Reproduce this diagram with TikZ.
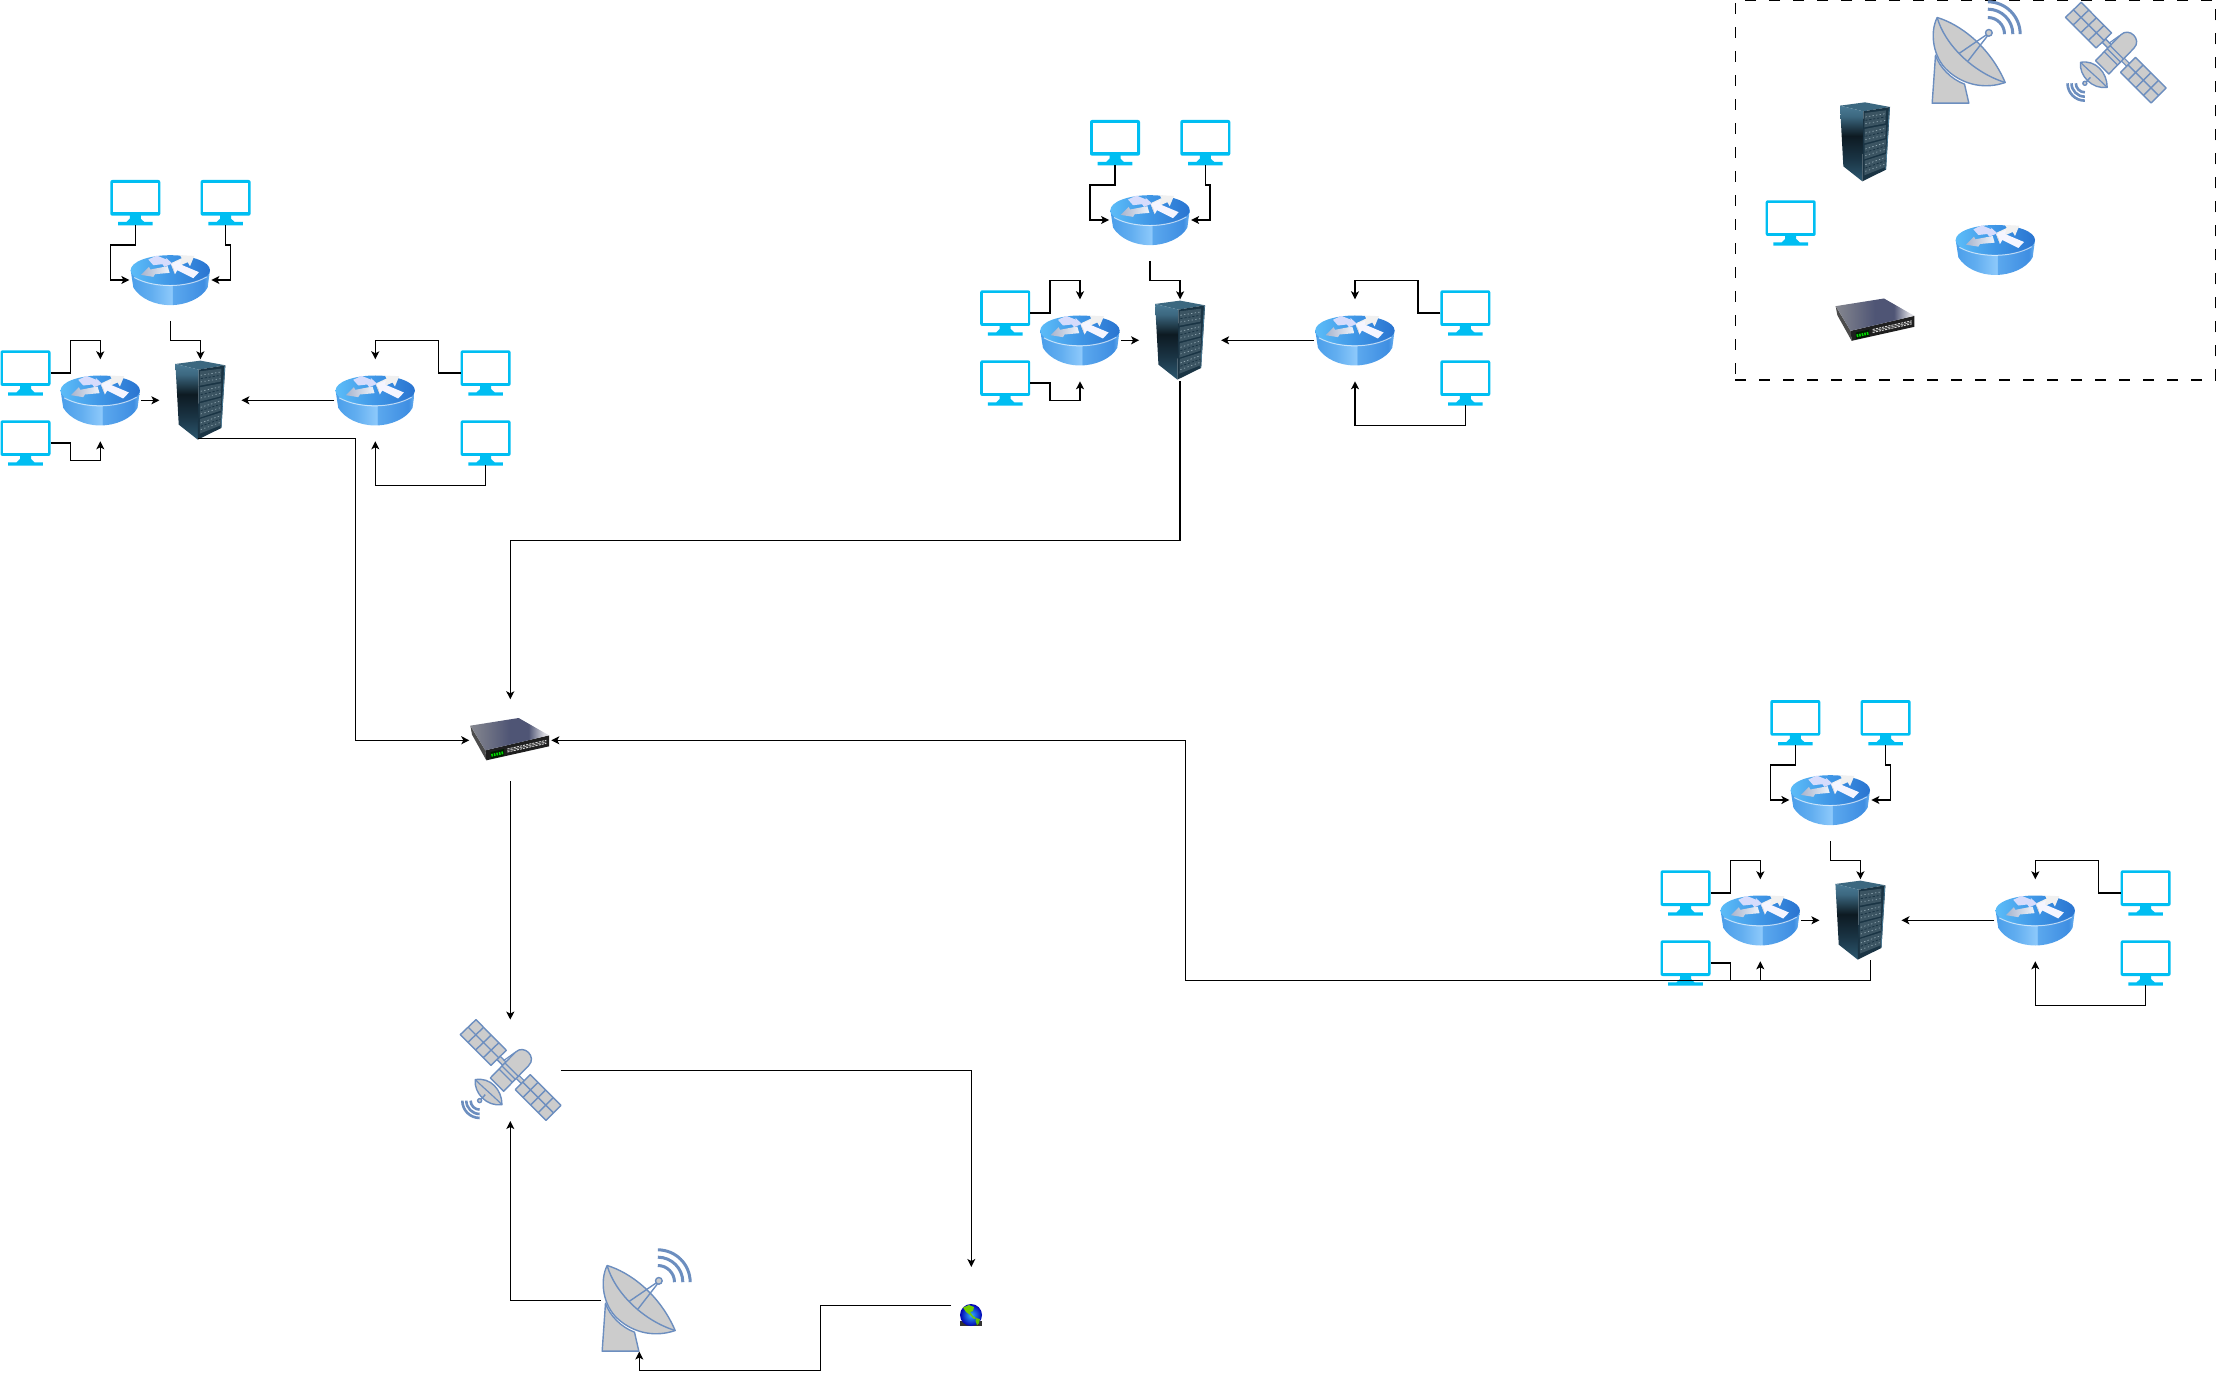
\documentclass[tikz,border=0pt]{standalone}
\usetikzlibrary{arrows.meta,calc}
\definecolor{moncol}{HTML}{00BEF2}
\definecolor{bluestroke}{HTML}{6C8EBF}
\definecolor{dishgray}{HTML}{CCCCCC}
\definecolor{rtA}{HTML}{5CBCF8}
\definecolor{rtB}{HTML}{3F96E6}
\definecolor{rtC}{HTML}{2A74D0}
\definecolor{rsA}{HTML}{4A9EEA}
\definecolor{rsB}{HTML}{62AEF0}
\definecolor{rsC}{HTML}{8DC9FB}
\definecolor{rsD}{HTML}{5BA8EE}
\definecolor{rsE}{HTML}{3F8EE2}
\definecolor{rsF}{HTML}{6FB5F2}
\definecolor{svA}{HTML}{2D5870}
\definecolor{svB}{HTML}{1A3444}
\definecolor{svC}{HTML}{0D1A22}
\definecolor{svD}{HTML}{3C6880}
\definecolor{svE}{HTML}{4A7A95}
\definecolor{svP}{HTML}{3B5462}
\definecolor{svQ}{HTML}{8FA5B0}
\definecolor{swA}{HTML}{85878F}
\definecolor{swB}{HTML}{4F5575}
\definecolor{swC}{HTML}{DADAE0}
\definecolor{arrL}{HTML}{A9B4CC}
\definecolor{arrR}{HTML}{EEF4FC}
\pgfdeclarehorizontalshading{routertop}{100bp}{color(0bp)=(rtA); color(25bp)=(rtA); color(50bp)=(rtB); color(75bp)=(rtC); color(100bp)=(rtC)}
\pgfdeclarehorizontalshading{routerside}{100bp}{color(0bp)=(rsA); color(25bp)=(rsA); color(38bp)=(rsB); color(51bp)=(rsC); color(51.5bp)=(rsD); color(71bp)=(rsE); color(75bp)=(rsF); color(100bp)=(rsF)}
\pgfdeclareverticalshading{serverleft}{100bp}{color(0bp)=(svA); color(25bp)=(svA); color(40bp)=(svB); color(55bp)=(svC); color(68bp)=(svD); color(75bp)=(svE); color(100bp)=(svE)}
\pgfdeclarehorizontalshading{switchtop}{100bp}{color(0bp)=(swA); color(25bp)=(swA); color(50bp)=(swB); color(62bp)=(swB); color(72bp)=(swC); color(75bp)=(swC); color(100bp)=(swC)}
\tikzset{
  x=0.5pt,y=-0.5pt,
  conn/.style={draw=black,line width=.65pt,line join=miter,-{Stealth[length=4pt,width=4pt,inset=1pt]}},
  routerbox/.style={inner sep=0,outer sep=0,minimum width=41pt,minimum height=41pt},
  monbox/.style={inner sep=0,outer sep=0,minimum width=25pt,minimum height=22.3pt},
  bluebox/.style={inner sep=0,outer sep=0,minimum width=50.5pt,minimum height=50.7pt},
  dishbox/.style={inner sep=0,outer sep=0,minimum width=46.3pt,minimum height=51pt},
  globebox/.style={inner sep=0,outer sep=0,minimum width=20.3pt,minimum height=38.3pt},
  bluefig/.style={draw=bluestroke,fill=dishgray,line width=.7pt,line join=round},
  wave/.style={draw=bluestroke,line width=1.5pt},
  monitor/.pic={
    \fill[moncol,rounded corners=1pt] (-25,-22.7) rectangle (25,13);
    \fill[white] (-22.3,-20) rectangle (22.3,9.8);
    \fill[moncol] (-5.5,12) -- (-5.5,16) -- (-9,19.3) -- (-17.3,19.3) -- (-17.3,22.7) -- (17.3,22.7) -- (17.3,19.3) -- (9,19.3) -- (5.5,16) -- (5.5,12) -- cycle;
  },
  router/.pic={
    \begin{scope}[shift={(-45.4,-29.8)},scale=.33333]
      \shade[shading=routerside] (17,60) -- (25,112) .. controls (45,145) and (90,165) .. (136,165) .. controls (182,165) and (230,145) .. (248,112) -- (255,60) -- cycle;
      \shade[shading=routertop] (17,60) .. controls (17,35) and (70,15) .. (136,15) .. controls (202,15) and (255,35) .. (255,60) .. controls (255,85) and (202,105) .. (136,105) .. controls (70,105) and (17,85) .. (17,60) -- cycle;
      \draw[white,opacity=.65,line width=.5pt] (28,82) .. controls (60,100) and (100,106) .. (136,106) .. controls (172,106) and (215,98) .. (245,80);
      \shade[left color=arrL,right color=arrR] (48,74) -- (72,50) -- (76,58) -- (128,48) -- (134,68) -- (90,72) -- (85,80) -- cycle;
      \fill[arrR!90!blue] (70,28) -- (95,16) -- (125,28) -- (122,22) -- (142,40) -- (118,50) -- (112,42) -- (85,45) -- cycle;
      \fill[white!88!gray] (140,38) -- (170,24) -- (165,15) -- (208,17) -- (195,48) -- (188,36) -- (152,52) -- cycle;
      \fill[white!96!blue] (138,42) -- (168,30) -- (165,42) -- (222,66) -- (205,84) -- (157,60) -- (150,72) -- cycle;
      \fill[white!70!gray] (138,42) -- (150,72) -- (146,55) -- cycle;
    \end{scope}
  },
  server/.pic={
    \begin{scope}[shift={(-135,-142.33)},scale=.33333]
      \fill[svD] (330,318) -- (405,308) -- (480,322) -- (400,335) -- cycle;
      \shade[shading=serverleft] (330,318) -- (400,335) -- (397,545) -- (340,500) -- cycle;
      \fill[svB] (400,335) -- (480,322) -- (468,510) -- (397,545) -- cycle;
      \draw[svE,line width=.4pt] (478,323) -- (467,509);
      \foreach \a/\b/\c/\d in {340/383/332/371,388/431/376/415,436/479/419/458,483/527/463/502}{
        \fill[svP] (404,\a) -- (468,\c) -- (466,\d) -- (403,\b) -- cycle;
        \draw[svQ,line width=.35pt,dash pattern=on .7pt off 1.1pt] (406,\a+12) -- (466,\c+10);
        \draw[svB,line width=.4pt,dash pattern=on 1.1pt off .9pt] (406,\a+22) -- (466,\c+20);
        \draw[svQ,line width=.35pt,dash pattern=on .6pt off 1.3pt] (406,\a+32) -- (466,\c+30);
      }
    \end{scope}
  },
  switchbox/.pic={
    \begin{scope}[shift={(-145.33,-319.33)},scale=.33333]
      \fill[black!70] (317,918) -- (362,992) -- (365,1022) -- (322,945) -- cycle;
      \fill[black!88] (362,992) -- (553,947) -- (553,980) -- (365,1022) -- cycle;
      \shade[shading=switchtop] (317,918) -- (462,895) -- (553,947) -- (362,992) -- cycle;
      \fill[black!65!green!30!black] (378,997) -- (418,988) -- (418,1008) -- (378,1017) -- cycle;
      \draw[green!85!black,line width=1.4pt,dash pattern=on .8pt off .5pt] (380,1007) -- (417,999);
      \draw[white!70!gray,line width=.45pt,dash pattern=on 1.1pt off .5pt] (428,988) -- (545,962);
      \draw[white!70!gray,line width=.45pt,dash pattern=on 1.1pt off .5pt] (428,997) -- (545,971);
      \draw[white!55!gray,line width=.3pt] (428,992.5) -- (545,966.5);
    \end{scope}
  },
  dish/.pic={
    \begin{scope}[shift={(-67.5,-70)},scale=.33333]
      \draw[bluefig] (78,218) -- (68,362) -- (178,362) -- (165,305) .. controls (125,290) and (90,255) .. (78,218) -- cycle;
      \draw[bluefig] (83,105) .. controls (150,125) and (240,190) .. (287,300) .. controls (230,320) and (165,310) .. (115,265) .. controls (70,225) and (60,150) .. (83,105) -- cycle;
      \draw[draw=bluestroke,line width=.7pt] (83,105) .. controls (105,185) and (190,270) .. (287,300);
      \draw[draw=bluestroke,line width=.7pt] (150,212) -- (232,156);
      \draw[draw=bluestroke,line width=.7pt] (175,236) -- (234,160);
      \draw[bluefig] (238,151) circle[radius=10];
      \foreach \r in {97,75,50}{
        \draw[wave] (235,155-\r) .. controls (235+.5523*\r,155-\r) and (235+\r,155-.5523*\r) .. (235+\r,155);
      }
    \end{scope}
  },
  satellite/.pic={
    \begin{scope}[shift={(-70,-70.67)},scale=.33333]
      \draw[bluefig] (170,180) -- (180,170) -- (205,195) -- (195,205) -- cycle;
      \draw[draw=bluestroke,line width=2.6pt,line cap=round] (228,228) -- (252,252);
      \draw[dishgray,line width=1.3pt,line cap=round] (228,228) -- (252,252);
      \draw[bluefig] (60,105) -- (107,60) -- (198,152) -- (152,197) -- cycle;
      \draw[draw=bluestroke,line width=.7pt] (83.5,82.5) -- (175.5,174.5) (83,128) -- (130,83) (106,151) -- (153,106) (129,174) -- (176,129);
      \draw[bluefig] (225,270) -- (270,225) -- (362,317) -- (317,362) -- cycle;
      \draw[draw=bluestroke,line width=.7pt] (247.5,247.5) -- (339.5,339.5) (248,293) -- (293,248) (271,316) -- (316,271) (294,339) -- (339,294);
      \draw[bluefig] (150,235) -- (225,158) .. controls (251,132) and (291,172) .. (265,198) -- (190,275) -- cycle;
      \draw[draw=bluestroke,line width=.6pt] (185,199) -- (225,239) (176,208) -- (216,248) (194,190) -- (234,230) (190,183) -- (222,160);
      \draw[bluefig] (105,240) .. controls (150,232) and (185,270) .. (185,315) .. controls (140,322) and (100,280) .. (105,240) -- cycle;
      \draw[draw=bluestroke,line width=.6pt] (105,240) .. controls (130,265) and (160,290) .. (185,315);
      \draw[draw=bluestroke,line width=.7pt] (118,303) -- (135,285);
      \draw[bluefig] (118,303) circle[radius=6];
      \foreach \r in {52,40,27}{
        \draw[draw=bluestroke,line width=1.3pt] (118-\r,303) .. controls (118-\r,303+.5523*\r) and (118-.5523*\r,303+\r) .. (118,303+\r);
      }
    \end{scope}
  },
  globe/.pic={
    \fill[black!80] (-11,6) rectangle (11,11);
    \shade[inner color=blue!40!cyan!80!white,outer color=blue!70!black] (0,0) circle[radius=11];
    \fill[green!45!yellow!80!black] (-8,-7.5) -- (-2,-10) -- (3,-8) -- (2,-4) -- (-1,-3) -- (2,1) -- (5,3) -- (3,4) -- (-1,0) -- (-5,-3) -- cycle;
    \fill[green!50!yellow!75!black] (5,3) -- (9,4) -- (8,8) -- (6,10) -- (4.5,6) -- cycle;
  },
}
\newcommand{\mycluster}[3]{%
  \begin{scope}[shift={(#2,#3)}]
    \node[monbox] (#1-m1) at (135.3,202.7) {}; \pic at (#1-m1) {monitor};
    \node[monbox] (#1-m2) at (225.6,202.7) {}; \pic at (#1-m2) {monitor};
    \node[monbox] (#1-m3) at (25.5,373) {}; \pic at (#1-m3) {monitor};
    \node[monbox] (#1-m4) at (25.5,443) {}; \pic at (#1-m4) {monitor};
    \node[monbox] (#1-m5) at (485.6,373) {}; \pic at (#1-m5) {monitor};
    \node[monbox] (#1-m6) at (485.6,443) {}; \pic at (#1-m6) {monitor};
    \node[routerbox] (#1-r1) at (170.4,280) {}; \pic at (#1-r1) {router};
    \node[routerbox] (#1-r2) at (100.3,400.3) {}; \pic at (#1-r2) {router};
    \node[routerbox] (#1-r3) at (375.3,400.3) {}; \pic at (#1-r3) {router};
    \node[routerbox] (#1-s) at (200.4,400.3) {}; \pic at (#1-s) {server};
  \end{scope}
  \draw[conn] (#1-m1.south) -- ++(0,20) -- ++(-25.1,0) |- (#1-r1.west);
  \draw[conn] (#1-m2.south) -- ++(0,20) -- ++(4.6,0) |- (#1-r1.east);
  \draw[conn] (#1-r1.south) -- ++(0,19.3) -| (#1-s.north);
  \draw[conn] (#1-m3.east) -- ++(19.9,0) -- ++(0,-32.7) -| (#1-r2.north);
  \draw[conn] (#1-m4.east) -- ++(19.9,0) -- ++(0,17.3) -| (#1-r2.south);
  \draw[conn] (#1-r2.east) -- (#1-s.west);
  \draw[conn] (#1-r3.west) -- (#1-s.east);
  \draw[conn] (#1-m5.west) -- ++(-22.3,0) -- ++(0,-32.7) -| (#1-r3.north);
  \draw[conn] (#1-m6.south) -- ++(0,20) -| (#1-r3.south);
}
\begin{document}
\begin{tikzpicture}
  \useasboundingbox (0,0) rectangle (2216,1379);
  \mycluster{A}{0}{0}
  \mycluster{B}{979.7}{-60}
  \mycluster{C}{1660}{520}
  \node[routerbox] (sw) at (510.3,740.3) {}; \pic at (510,739) {switchbox};
  \node[bluebox] (sat) at (510.3,1070.3) {}; \pic at (sat) {satellite};
  \node[dishbox] (dish) at (647,1300.5) {}; \pic at (dish) {dish};
  \node[globebox] (globe) at (971.3,1305.3) {}; \pic at (971,1315) {globe};
  % legend
  \node[inner sep=0,outer sep=0,minimum width=240.2pt,minimum height=190pt,draw=black,line width=.65pt,dash pattern=on 5.5pt off 6.5pt] (legend) at (1975.5,190) {};
  \node[dishbox] (L-dish) at (1977,52.5) {}; \pic at (L-dish) {dish};
  \node[bluebox] (L-sat) at (2115.5,53) {}; \pic at (L-sat) {satellite};
  \node[routerbox] (L-s) at (1865,142) {}; \pic at (L-s) {server};
  \node[monbox] (L-m) at (1790.7,223) {}; \pic at (L-m) {monitor};
  \node[routerbox] (L-r) at (1995.4,249.8) {}; \pic at (L-r) {router};
  \node[routerbox] (L-sw) at (1875.3,319.5) {}; \pic at (L-sw) {switchbox};
  % long connectors
  \draw[conn] ($(A-s.south)+(-2.6,-3)$) -- ++(157.8,0) |- (sw.west);
  \draw[conn] (B-s.south) -- ++(0,159) -| (sw.north);
  \draw[conn] ($(C-s.south)+(10.3,-1)$) -- ++(0,20) -- ++(-685.1,0) |- (sw.east);
  \draw[conn] (sw.south) -- (sat.north);
  \draw[conn] (sat.east) -| (globe.north);
  \draw[conn] (globe.west) -- ++(-130.3,0) -- ++(0,65) -| ($(dish.south)+(-7.7,0)$);
  \draw[conn] (dish.west) -| (sat.south);
\end{tikzpicture}
\end{document}
